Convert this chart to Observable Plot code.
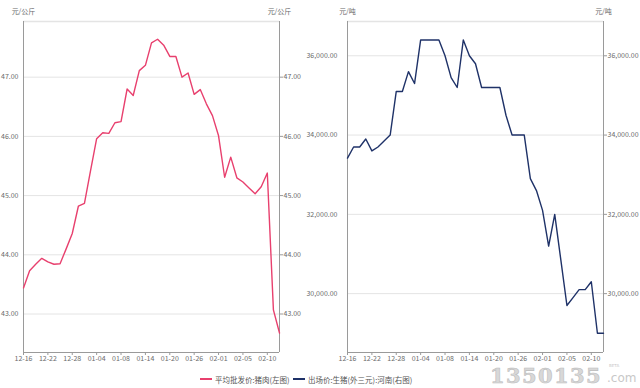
<!DOCTYPE html>
<html>
<head>
<meta charset="utf-8">
<script src="https://cdn.jsdelivr.net/npm/d3@7"></script>
<script src="https://cdn.jsdelivr.net/npm/@observablehq/plot@0.6"></script>
<style>
  html, body { margin: 0; padding: 0; background: #fff; }
  body { width: 640px; height: 388px; position: relative; overflow: hidden;
         font-family: "Noto Sans CJK SC", "Noto Sans", sans-serif; }
  .panel { position: absolute; top: 0; }
  .legend { position: absolute; top: 373px; font-size: 7.5px; color: #555; white-space: nowrap;
            display: flex; align-items: center; height: 12px; }
  .legend .sw { display: inline-block; width: 12px; height: 2px; margin-right: 3px; }
  .wm { position: absolute; color: #d4d4d4; white-space: nowrap; }
</style>
</head>
<body>
<div id="left" class="panel" style="left:0px"></div>
<div id="right" class="panel" style="left:300px"></div>
<div class="legend" style="left:200px"><span class="sw" style="background:#e8406e"></span>平均批发价:猪肉(左图)</div>
<div class="legend" style="left:293px"><span class="sw" style="background:#1f3268"></span>出场价:生猪(外三元):河南(右图)</div>
<div class="wm" style="left:490px; top:363px; font: bold 21px 'DejaVu Serif', serif; line-height: normal; letter-spacing: 1.4px; color:#d8d8d8; -webkit-text-stroke:0.6px #bdbdbd;">1350135</div>
<div class="wm" style="left:607px; top:373px; font: 12px/11px 'DejaVu Sans', sans-serif; color:#c8c8c8;">.com</div>
<div class="wm" style="left:609px; top:364px; font: 4px/4px 'DejaVu Sans', sans-serif; color:#c8c8c8;">BETA</div>
<script>
// x tick labels (every 4th trading day)
const tickLabels = ["12-16","12-22","12-28","01-04","01-08","01-14","01-20","01-26","02-01","02-05","02-10"];

// 平均批发价:猪肉 (元/公斤), left chart
const porkWholesale = [43.44,43.73,43.84,43.94,43.88,43.84,43.85,44.10,44.36,44.82,44.87,45.42,45.96,46.06,46.05,46.23,46.25,46.80,46.69,47.11,47.20,47.58,47.64,47.54,47.35,47.35,47.00,47.07,46.71,46.79,46.55,46.35,46.01,45.31,45.65,45.30,45.23,45.13,45.03,45.15,45.38,43.07,42.68];

// 出场价:生猪(外三元):河南 (元/吨), right chart
const hogHenan = [33420,33700,33700,33900,33600,33700,33850,34000,35100,35100,35600,35300,36400,36400,36400,36400,36000,35450,35200,36400,36000,35800,35200,35200,35200,35200,34500,34000,34000,34000,32900,32600,32100,31200,32000,30850,29700,29900,30100,30100,30300,29000,29000];

const leftTicks = [43,44,45,46,47];
const rightTicks = [30000,32000,34000,36000];
const leftDomain = [42.35, 47.94];
const rightDomain = [28515, 36865];
const leftUnit = "元/公斤";
const rightUnit = "元/吨";

const FONT = "'Noto Sans CJK SC', 'Noto Sans', sans-serif";
const AXIS = "#9a9a9a";
const GRID = "#e4e4e4";
const TEXT = "#6a6a6a";

function panel({values, yDomain, yTicks, fmt, unit, color, width, mLeft, mRight, leftPad}) {
  const data = values.map((v, i) => ({i, v}));
  const n = values.length - 1;
  return Plot.plot({
    width, height: 366,
    marginLeft: mLeft, marginRight: mRight, marginTop: 21, marginBottom: 14,
    style: {background: "transparent", overflow: "visible", fontFamily: FONT, fontSize: "7px", color: TEXT},
    x: {domain: [0, n]},
    y: {domain: yDomain},
    marks: [
      Plot.gridY(yTicks, {stroke: GRID, strokeOpacity: 1}),
      Plot.ruleY([yDomain[1]], {stroke: GRID, strokeWidth: 1.5}),
      Plot.ruleX([0, n], {stroke: AXIS}),
      Plot.ruleY([yDomain[0]], {stroke: AXIS}),
      Plot.axisY(yTicks, {anchor: "left", tickFormat: fmt, tickSize: 0, tickPadding: leftPad, label: null, fill: TEXT}),
      Plot.axisY(yTicks, {anchor: "right", tickFormat: fmt, tickSize: 3, tickPadding: 1, label: null, stroke: AXIS, fill: TEXT}),
      Plot.axisX(d3.range(0, n, 4), {tickFormat: i => tickLabels[i / 4], tickSize: 3, tickPadding: 1, label: null, stroke: AXIS, fill: TEXT}),
      Plot.line(data, {x: "i", y: "v", stroke: color, strokeWidth: 1.4}),
      Plot.text([unit], {frameAnchor: "top-left", dy: -12, textAnchor: "middle", fill: TEXT}),
      Plot.text([unit], {frameAnchor: "top-right", dy: -12, textAnchor: "middle", fill: TEXT})
    ]
  });
}

document.getElementById("left").append(panel({
  values: porkWholesale, yDomain: leftDomain, yTicks: leftTicks, fmt: d3.format(".2f"),
  unit: leftUnit, color: "#e8406e", width: 300, mLeft: 23, mRight: 21, leftPad: 5
}));
document.getElementById("right").append(panel({
  values: hogHenan, yDomain: rightDomain, yTicks: rightTicks, fmt: d3.format(",.2f"),
  unit: rightUnit, color: "#1f3268", width: 340, mLeft: 47, mRight: 37, leftPad: 10
}));
</script>
</body>
</html>
